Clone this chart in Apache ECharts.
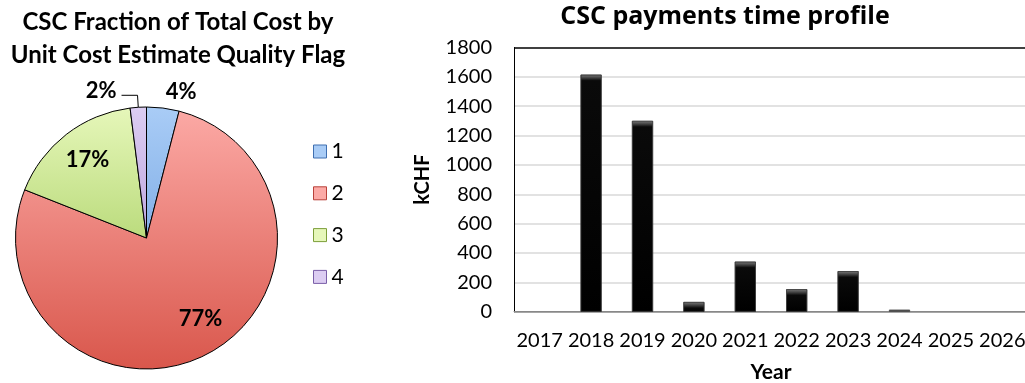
<!DOCTYPE html>
<html>
<head>
<meta charset="utf-8">
<script src="https://cdn.jsdelivr.net/npm/echarts@6/dist/echarts.min.js"></script>
<style>
  html, body { margin: 0; padding: 0; background: #fff; }
  #chart { width: 1025px; height: 383px; }
</style>
</head>
<body>
<div id="chart"></div>
<script>
// Share of total CSC cost per unit-cost estimate quality flag (percent)
const flags = ['1', '2', '3', '4'];
const shares = [4, 77, 17, 2];

// CSC payments per year (kCHF)
const years = ['2017', '2018', '2019', '2020', '2021', '2022', '2023', '2024', '2025', '2026'];
const payments = [0, 1615, 1300, 66, 341, 153, 276, 14, 0, 0];

// Value axis ticks
const yMin = 0;
const yMax = 1800;
const yStep = 200;

const FONT = 'Lato';

// Slice colours: light at the top of the disc, darker towards the bottom
const sliceTop = ['#a9ccf6', '#fcaaa6', '#e6f7ba', '#dccdf2'];
const sliceBottom = ['#5d93d8', '#d9574c', '#90c040', '#9f80cc'];
const sliceEdge = ['#3f6fb0', '#b8423a', '#7c9e3a', '#7a5fa8'];

const pieCenter = [146.5, 238];
const pieRadius = 131;

function sliceGradient(i) {
  return new echarts.graphic.LinearGradient(0, pieCenter[1] - pieRadius, 0, pieCenter[1] + pieRadius, [
    { offset: 0, color: sliceTop[i] },
    { offset: 1, color: sliceBottom[i] }
  ], true);
}

// Label placement for each slice: small slices outside, large ones inside
const labelPlacement = ['outside', 'inside', 'inside', 'outside'];
const labelShift = [[-1.5, -5], [11.5, 9.75], [-8.5, -12], [0, -2]];

const pieData = flags.map((f, i) => {
  const item = {
    name: f,
    value: shares[i],
    itemStyle: { color: sliceGradient(i) },
    label: { position: labelPlacement[i] }
  };
  if (i === 0) {
    item.labelLine = { show: false, length: 6, length2: 0 };
  } else if (i === 3) {
    item.labelLine = { show: true, length: 12, length2: 16, lineStyle: { color: '#000', width: 1 } };
  }
  return item;
});

const splitColors = [];
for (let v = yMin; v <= yMax; v += yStep) {
  splitColors.push(v === yMin ? '#888' : (v === yMax ? '#000' : '#d9d9d9'));
}

const chart = echarts.init(document.getElementById('chart'), null, { renderer: 'canvas' });

chart.setOption({
  animation: false,
  textStyle: { fontFamily: FONT },
  title: [
    {
      text: 'CSC Fraction of Total Cost by\nUnit Cost Estimate Quality Flag',
      left: 178,
      top: 5.5,
      textAlign: 'center',
      padding: 0,
      textStyle: { fontFamily: FONT, fontWeight: 'bold', fontSize: 24, lineHeight: 33, color: '#000' }
    },
    {
      text: 'CSC payments time profile',
      left: 725,
      top: 2,
      textAlign: 'center',
      padding: 0,
      textStyle: { fontFamily: 'Open Sans', fontWeight: 'bold', fontSize: 25, lineHeight: 30, color: '#000' }
    }
  ],
  legend: {
    data: flags.map((f, i) => ({ name: f, itemStyle: { borderColor: sliceEdge[i], borderWidth: 1 } })),
    orient: 'vertical',
    left: 313,
    top: 141,
    padding: 0,
    icon: 'rect',
    itemWidth: 13,
    itemHeight: 13,
    itemGap: 20.8,
    textStyle: { fontFamily: FONT, fontSize: 21, lineHeight: 20, color: '#000' }
  },
  grid: {
    left: 514,
    right: -3,
    top: 47.5,
    bottom: 71.3,
    outerBoundsMode: 'none'
  },
  xAxis: {
    type: 'category',
    data: years,
    name: 'Year',
    nameLocation: 'middle',
    nameGap: 50,
    nameTextStyle: { fontFamily: FONT, fontWeight: 'bold', fontSize: 21, color: '#000' },
    axisLine: { lineStyle: { color: '#888', width: 1 } },
    axisTick: { show: false },
    axisLabel: { fontFamily: FONT, fontSize: 20, color: '#000', margin: 19, interval: 0 }
  },
  yAxis: {
    type: 'value',
    min: yMin,
    max: yMax,
    interval: yStep,
    name: 'kCHF',
    nameLocation: 'middle',
    nameGap: 81,
    nameTextStyle: { fontFamily: FONT, fontWeight: 'bold', fontSize: 20, color: '#000' },
    axisLine: { show: true, lineStyle: { color: '#000', width: 1 } },
    axisTick: { show: false },
    axisLabel: {
      fontFamily: FONT, fontSize: 20, color: '#000', margin: 22,
      padding: [4, 0, 0, 0],
      formatter: function (v) { return String(v); }
    },
    splitLine: { show: true, showMinLine: true, showMaxLine: true, lineStyle: { color: splitColors, width: 1.5 } }
  },
  series: [
    {
      id: 'quality',
      type: 'pie',
      center: pieCenter,
      radius: pieRadius,
      startAngle: 90,
      clockwise: true,
      avoidLabelOverlap: false,
      itemStyle: { borderColor: '#000', borderWidth: 1 },
      label: {
        show: true,
        formatter: '{c}%',
        fontFamily: FONT,
        fontWeight: 'bold',
        fontSize: 22,
        color: '#000'
      },
      labelLayout: function (p) {
        const s = labelShift[p.dataIndex];
        return { dx: s[0], dy: s[1] };
      },
      emphasis: { disabled: true },
      data: pieData
    },
    {
      id: 'payments',
      type: 'bar',
      barWidth: 21,
      itemStyle: { color: '#000' },
      emphasis: { disabled: true },
      data: payments
    }
  ]
});

// Give each bar a grey bevelled cap of fixed pixel depth, measured with the axis scale
const zeroY = chart.convertToPixel({ xAxisIndex: 0, yAxisIndex: 0 }, [0, 0])[1];
const capPx = 6;
const barData = payments.map((v, i) => {
  const topY = chart.convertToPixel({ xAxisIndex: 0, yAxisIndex: 0 }, [i, v])[1];
  const h = zeroY - topY;
  if (h <= 0) return { value: v };
  const c = capPx / h;
  let color;
  if (c >= 1) {
    color = '#5a5a5a';
  } else {
    color = new echarts.graphic.LinearGradient(0, 0, 0, 1, [
      { offset: 0, color: '#7a7a7a' },
      { offset: c * 0.45, color: '#4a4a4a' },
      { offset: c, color: '#0a0a0a' },
      { offset: 1, color: '#000' }
    ]);
  }
  return { value: v, itemStyle: { color: color, borderColor: '#333', borderWidth: 0.6 } };
});
chart.setOption({ series: [{ id: 'payments', data: barData }] });
</script>
</body>
</html>
